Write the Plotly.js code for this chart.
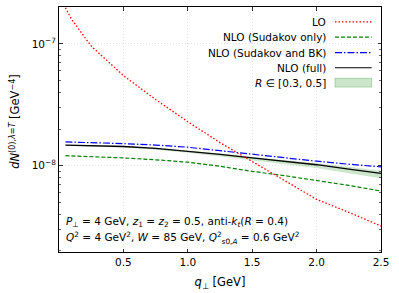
<!DOCTYPE html>
<html>
<head>
<meta charset="utf-8">
<script src="https://cdn.plot.ly/plotly-3.0.1.min.js"></script>
<style>html,body{margin:0;padding:0;background:#fff;}#chart{width:399px;height:293px;}</style>
</head>
<body>
<div id="chart"></div>
<script>
// q_perp values [GeV]
const q = [0.05, 0.1, 0.25, 0.5, 0.75, 1.0, 1.25, 1.5, 1.75, 2.0, 2.25, 2.5];
// LO
const loVals = [1.98e-7, 1.58e-7, 9.6e-8, 5.5e-8, 3.5e-8, 2.3e-8, 1.55e-8, 1.08e-8, 7.5e-9, 5.3e-9, 4.15e-9, 3.2e-9];
// NLO (Sudakov only)
const sudVals = [1.21e-8, 1.205e-8, 1.19e-8, 1.16e-8, 1.12e-8, 1.07e-8, 0.99e-8, 0.90e-8, 0.83e-8, 0.76e-8, 0.69e-8, 0.62e-8];
// NLO (Sudakov and BK)
const bkVals = [1.57e-8, 1.565e-8, 1.55e-8, 1.52e-8, 1.48e-8, 1.42e-8, 1.33e-8, 1.24e-8, 1.16e-8, 1.09e-8, 1.03e-8, 0.98e-8];
// NLO (full)
const fullVals = [1.48e-8, 1.475e-8, 1.46e-8, 1.44e-8, 1.39e-8, 1.32e-8, 1.24e-8, 1.16e-8, 1.09e-8, 1.02e-8, 0.94e-8, 0.865e-8];
// R in [0.3, 0.5] band
const bandUpper = [1.49e-8, 1.485e-8, 1.47e-8, 1.45e-8, 1.405e-8, 1.34e-8, 1.26e-8, 1.18e-8, 1.115e-8, 1.05e-8, 0.98e-8, 0.91e-8];
const bandLower = [1.46e-8, 1.455e-8, 1.44e-8, 1.41e-8, 1.355e-8, 1.28e-8, 1.19e-8, 1.11e-8, 1.03e-8, 0.96e-8, 0.87e-8, 0.79e-8];

const xTicks = [0.5, 1.0, 1.5, 2.0, 2.5];
const yTicks = [1e-8, 1e-7];
const yTickText = ['10<sup>−8</sup>', '10<sup>−7</sup>'];
const yMinor = [2e-9, 3e-9, 4e-9, 5e-9, 6e-9, 7e-9, 8e-9, 9e-9, 2e-8, 3e-8, 4e-8, 5e-8, 6e-8, 7e-8, 8e-8, 9e-8, 2e-7];

const legendNames = ['LO', 'NLO (Sudakov only)', 'NLO (Sudakov and BK)', 'NLO (full)', '<i>R</i> ∈ [0.3, 0.5]'];

const FONT = 'DejaVu Sans, sans-serif';

const traces = [
  {x: q, y: bandLower, mode: 'lines', line: {width: 0, color: 'rgba(0,0,0,0)'}, showlegend: false, hoverinfo: 'skip'},
  {x: q, y: bandUpper, mode: 'lines', line: {width: 0, color: 'rgba(0,0,0,0)'}, fill: 'tonexty', fillcolor: 'rgba(0,128,0,0.2)', showlegend: false},
  {x: q, y: sudVals, mode: 'lines', line: {color: '#008000', width: 1.2, dash: '4px,2px'}, showlegend: false},
  {x: q, y: bkVals, mode: 'lines', line: {color: '#0000ff', width: 1.2, dash: '7px,2px,1.5px,2px'}, showlegend: false},
  {x: q, y: fullVals, mode: 'lines', line: {color: '#000000', width: 1.3}, showlegend: false},
  {x: q, y: loVals, mode: 'lines', line: {color: '#ff0000', width: 1.3, dash: '1.5px,2px'}, showlegend: false}
];

// manual legend (symbol on the right, text right-aligned)
const rowY = [0.939, 0.877, 0.814, 0.752, 0.691];
const symX0 = 0.857, symX1 = 0.971, textX = 0.835;
const legendStyles = [
  {color: '#ff0000', dash: '1.5px,2px'},
  {color: '#008000', dash: '4px,2px'},
  {color: '#0000ff', dash: '7px,2px,1.5px,2px'},
  {color: '#000000', dash: 'solid'}
];
const shapes = [];
const annotations = [];
legendNames.forEach((name, i) => {
  annotations.push({xref: 'paper', yref: 'paper', x: textX, y: rowY[i], xanchor: 'right', yanchor: 'middle',
    text: name, showarrow: false, font: {family: FONT, size: 10.5, color: '#000'}});
  if (i < 4) {
    shapes.push({type: 'line', xref: 'paper', yref: 'paper', x0: symX0, x1: symX1, y0: rowY[i], y1: rowY[i],
      line: {color: legendStyles[i].color, width: 1.2, dash: legendStyles[i].dash}});
  } else {
    shapes.push({type: 'rect', xref: 'paper', yref: 'paper', x0: symX0, x1: symX1, y0: rowY[i] - 0.018, y1: rowY[i] + 0.018,
      fillcolor: 'rgba(0,128,0,0.2)', line: {color: 'rgba(0,128,0,0.25)', width: 1}});
  }
});
annotations.push({xref: 'paper', yref: 'paper', x: 0.016, y: 0.124, xanchor: 'left', yanchor: 'middle', showarrow: false,
  text: '<i>P</i><sub>⊥</sub> = 4 GeV, <i>z</i><sub>1</sub> = <i>z</i><sub>2</sub> = 0.5, anti-<i>k</i><sub><i>t</i></sub>(<i>R</i> = 0.4)',
  font: {family: FONT, size: 10.5, color: '#000'}});
annotations.push({xref: 'paper', yref: 'paper', x: 0.016, y: 0.056, xanchor: 'left', yanchor: 'middle', showarrow: false,
  text: '<i>Q</i><sup>2</sup> = 4 GeV<sup>2</sup>, <i>W</i> = 85 GeV, <i>Q</i><sup>2</sup><sub><i>s</i>0,<i>A</i></sub> = 0.6 GeV<sup>2</sup>',
  font: {family: FONT, size: 10.5, color: '#000'}});
// y-axis title
annotations.push({xref: 'paper', yref: 'paper', x: -0.136, y: 0.532, xanchor: 'center', yanchor: 'middle', showarrow: false,
  textangle: -90,
  text: '<i>dN</i><sup>(0),<i>λ</i>=<i>T</i></sup> [GeV<sup>−4</sup>]',
  font: {family: FONT, size: 11.5, color: '#000'}});

const layout = {
  width: 399, height: 293,
  margin: {l: 59, r: 18, t: 7, b: 41, pad: 0},
  paper_bgcolor: '#fff', plot_bgcolor: '#fff',
  font: {family: FONT, size: 10.5, color: '#000'},
  showlegend: false,
  xaxis: {
    range: [0, 2.5], tickvals: xTicks, tickformat: '.1f',
    ticks: 'inside', ticklen: 3.5, tickwidth: 0.8, tickcolor: '#000',
    showline: true, linecolor: '#000', linewidth: 1, mirror: 'ticks',
    showgrid: true, gridcolor: '#dcdcdc', griddash: '1px,2px', gridwidth: 0.8,
    zeroline: false,
    title: {text: '<i>q</i><sub>⊥</sub> [GeV]', font: {family: FONT, size: 11.5}, standoff: 11},
    tickfont: {family: FONT, size: 10.5}
  },
  yaxis: {
    type: 'log', range: [Math.log10(1.96e-9), Math.log10(2.01e-7)],
    tickvals: yTicks, ticktext: yTickText,
    ticks: 'inside', ticklen: 3.5, tickwidth: 0.8, tickcolor: '#000',
    minor: {tickvals: yMinor, ticks: 'inside', ticklen: 2, tickwidth: 0.6, tickcolor: '#000', showgrid: false},
    showline: true, linecolor: '#000', linewidth: 1, mirror: 'ticks',
    showgrid: true, gridcolor: '#dcdcdc', griddash: '1px,2px', gridwidth: 0.8,
    zeroline: false,
    tickfont: {family: FONT, size: 10.5}
  },
  shapes: shapes,
  annotations: annotations
};

Plotly.newPlot('chart', traces, layout, {staticPlot: true, displayModeBar: false});
</script>
</body>
</html>
